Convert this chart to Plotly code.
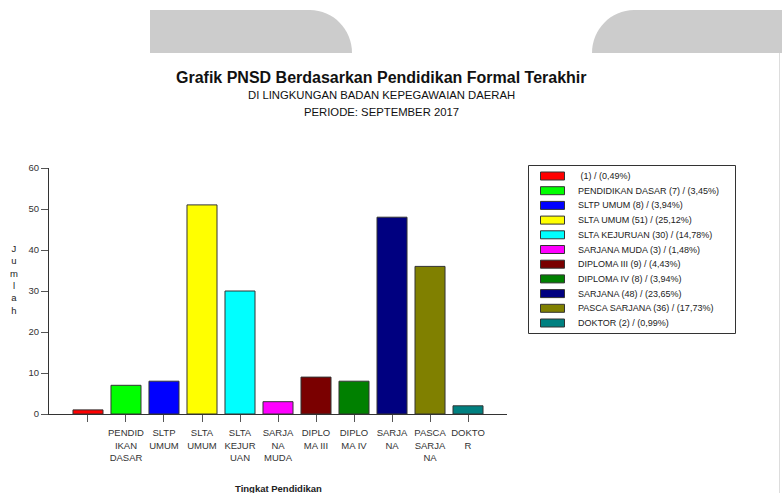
import plotly.graph_objects as go

# ---- data ----
categories = ["", "PENDIDIKAN DASAR", "SLTP UMUM", "SLTA UMUM", "SLTA KEJURUAN",
              "SARJANA MUDA", "DIPLOMA III", "DIPLOMA IV", "SARJANA",
              "PASCA SARJANA", "DOKTOR"]
tick_labels = ["", "PENDID<br>IKAN<br>DASAR", "SLTP<br>UMUM", "SLTA<br>UMUM",
               "SLTA<br>KEJUR<br>UAN", "SARJA<br>NA<br>MUDA", "DIPLO<br>MA III",
               "DIPLO<br>MA IV", "SARJA<br>NA", "PASCA<br>SARJA<br>NA", "DOKTO<br>R"]
values = [1, 7, 8, 51, 30, 3, 9, 8, 48, 36, 2]
percents = ["0,49", "3,45", "3,94", "25,12", "14,78", "1,48", "4,43", "3,94",
            "23,65", "17,73", "0,99"]
colors = ["#FF0000", "#00FF00", "#0000FF", "#FFFF00", "#00FFFF", "#FF00FF",
          "#7A0000", "#008000", "#000080", "#808000", "#008080"]
y_ticks = [0, 10, 20, 30, 40, 50, 60]

# ---- geometry (pixels) ----
W_FIG, H_FIG = 782, 493
L, R, T, B = 49, 507, 168, 414
PW, PH = R - L, B - T


def px(x):
    return (x - L) / PW


def py(y):
    return (B - y) / PH


fig = go.Figure()
idx = list(range(len(values)))
fig.add_trace(go.Bar(
    x=idx, y=values,
    marker=dict(color=colors, line=dict(color="#333333", width=1)),
    width=0.79, showlegend=False, hoverinfo="y",
))

shapes = []
annotations = []

# top gray tabs
k = 0.55
g1 = (f"M {px(150)},{py(53)} L {px(150)},{py(10)} L {px(310)},{py(10)} "
      f"C {px(310 + 42 * k)},{py(10)} {px(352)},{py(53 - 43 * k)} {px(352)},{py(53)} Z")
g2 = (f"M {px(592)},{py(53)} C {px(592)},{py(53 - 43 * k)} {px(634 - 42 * k)},{py(10)} "
      f"{px(634)},{py(10)} L {px(782)},{py(10)} L {px(782)},{py(53)} Z")
for p in (g1, g2):
    shapes.append(dict(type="path", xref="paper", yref="paper", path=p,
                       fillcolor="#CCCCCC", line=dict(width=0), layer="below"))
shapes.append(dict(type="line", xref="paper", yref="paper",
                   x0=px(779.5), x1=px(779.5), y0=py(53), y1=py(493),
                   line=dict(color="#DDDDDD", width=1)))

# legend box
shapes.append(dict(type="rect", xref="paper", yref="paper",
                   x0=px(528.5), x1=px(735.5), y0=py(165.5), y1=py(333.5),
                   line=dict(color="#333333", width=1), fillcolor="white"))
for i, (name, v, pc, c) in enumerate(zip(categories, values, percents, colors)):
    yc = 176 + 14.7 * i
    shapes.append(dict(type="rect", xref="paper", yref="paper",
                       x0=px(540.5), x1=px(564.5), y0=py(yc - 4), y1=py(yc + 4),
                       fillcolor=c, line=dict(color="#333333", width=1)))
    annotations.append(dict(xref="paper", yref="paper", x=px(576), y=py(yc),
                            text=f"{name} ({v}) / ({pc}%)", showarrow=False,
                            xanchor="left", yanchor="middle",
                            font=dict(size=9, color="#222222")))

# titles
annotations.append(dict(xref="paper", yref="paper", x=px(381), y=py(77),
                        text="<b>Grafik PNSD Berdasarkan Pendidikan Formal Terakhir</b>",
                        showarrow=False, xanchor="center", yanchor="middle",
                        font=dict(size=16, color="#111111")))
annotations.append(dict(xref="paper", yref="paper", x=px(381), y=py(95),
                        text="DI LINGKUNGAN BADAN KEPEGAWAIAN DAERAH",
                        showarrow=False, xanchor="center", yanchor="middle",
                        font=dict(size=11.3, color="#111111")))
annotations.append(dict(xref="paper", yref="paper", x=px(381), y=py(112),
                        text="PERIODE: SEPTEMBER 2017",
                        showarrow=False, xanchor="center", yanchor="middle",
                        font=dict(size=11.3, color="#111111")))
annotations.append(dict(xref="paper", yref="paper", x=px(278), y=py(488),
                        text="<b>Tingkat Pendidikan</b>",
                        showarrow=False, xanchor="center", yanchor="middle",
                        font=dict(size=9.5, color="#222222")))
annotations.append(dict(xref="paper", yref="paper", x=px(14), y=py(279),
                        text="<br>".join(list("Jumlah")),
                        showarrow=False, xanchor="center", yanchor="middle",
                        font=dict(size=9.5, color="#222222")))

fig.update_layout(
    width=W_FIG, height=H_FIG,
    margin=dict(l=L, r=W_FIG - R, t=T, b=H_FIG - B, pad=0),
    paper_bgcolor="white", plot_bgcolor="white",
    font=dict(family="Liberation Sans, Arial, sans-serif", color="#333333"),
    shapes=shapes, annotations=annotations,
    xaxis=dict(range=[-1.026, 11.026], tickmode="array", tickvals=idx,
               ticktext=tick_labels, ticks="outside", ticklen=7, tickcolor="#555555",
               ticklabelstandoff=3,
               showline=True, linecolor="#333333", linewidth=1, showgrid=False,
               zeroline=False, tickfont=dict(size=9.5, color="#333333"),
               fixedrange=True),
    yaxis=dict(range=[0, 60], tickmode="array", tickvals=y_ticks, ticks="outside",
               ticklen=7, tickcolor="#555555", showline=True, linecolor="#333333",
               linewidth=1, showgrid=False, zeroline=False,
               tickfont=dict(size=9.5, color="#333333"), fixedrange=True),
)

fig.write_html("out.html", config={"displayModeBar": False},
               post_script="document.body.style.margin='0';document.body.style.overflow='hidden';")
